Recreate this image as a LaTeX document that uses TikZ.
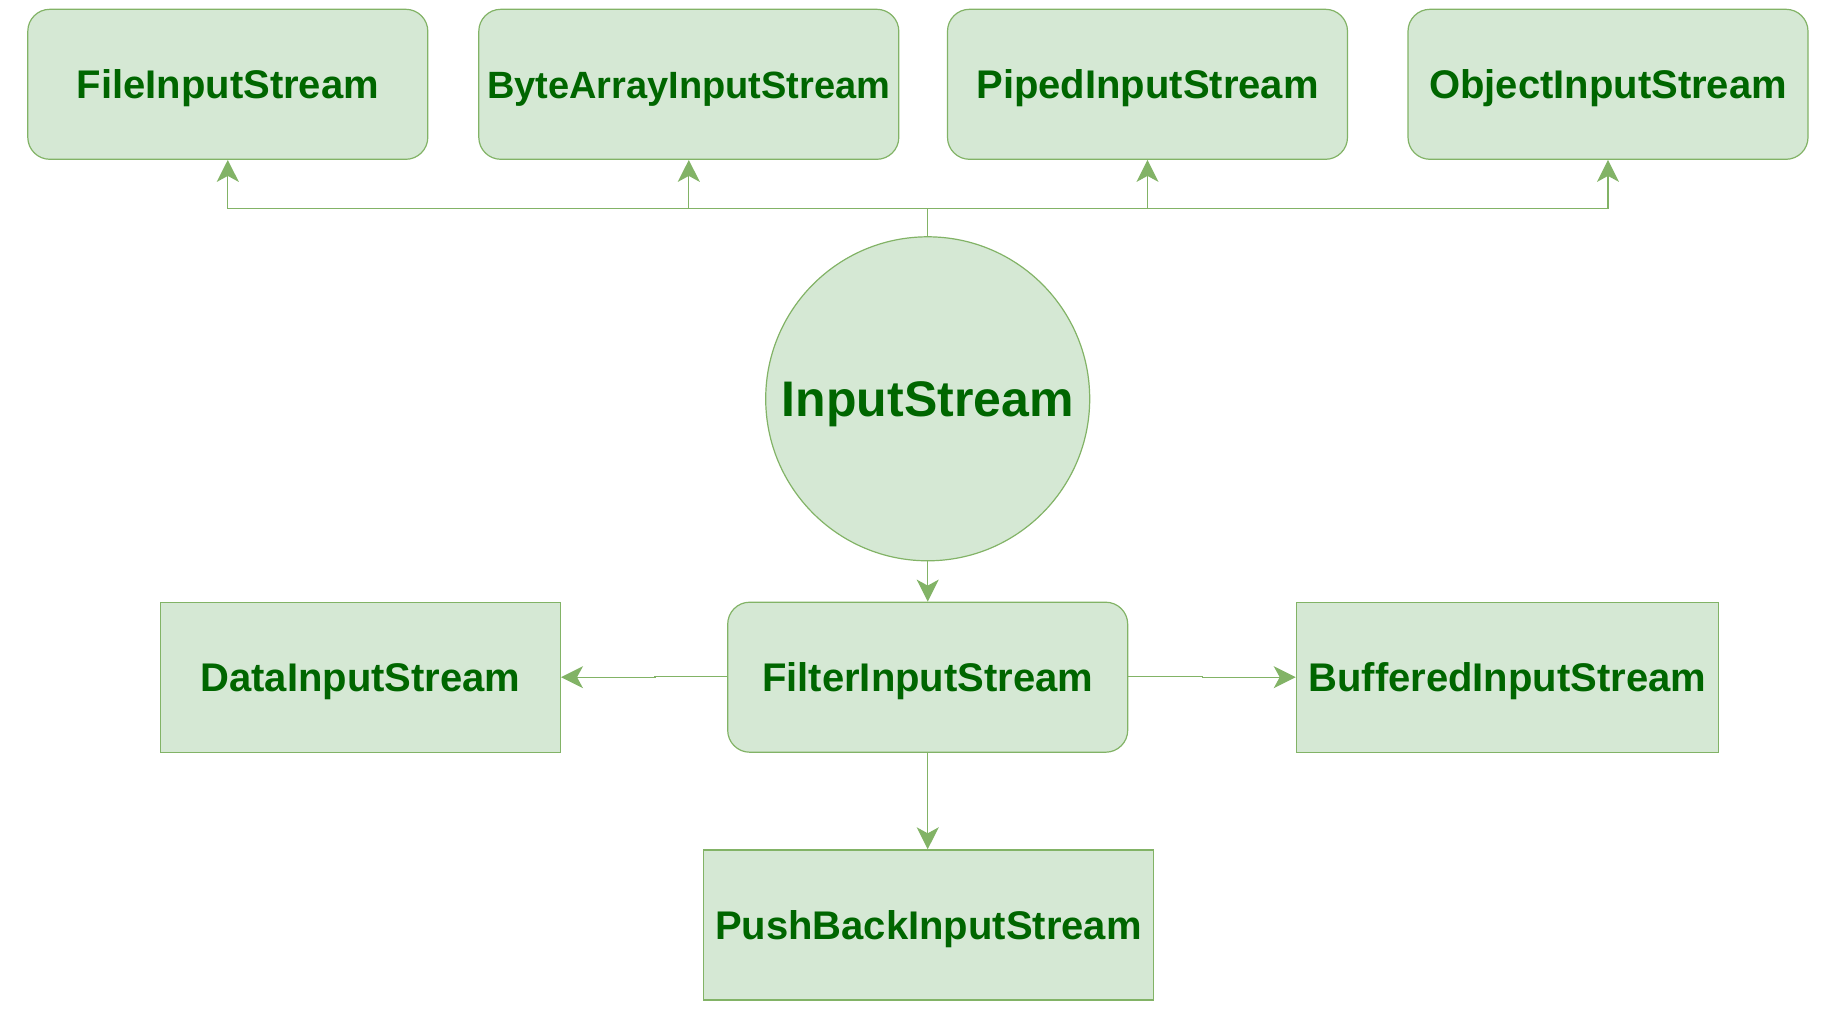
\documentclass[tikz,border=0pt]{standalone}
\usepackage{fontspec}
\setmainfont{Liberation Sans}
\usetikzlibrary{arrows.meta}
\definecolor{boxfill}{HTML}{D5E8D4}
\definecolor{boxline}{HTML}{82B366}
\definecolor{txt}{HTML}{006600}
\tikzset{
  base/.style={draw=boxline, fill=boxfill, line width=1.2pt, inner sep=0pt, text=txt,
    font=\fontsize{40}{48}\selectfont\bfseries, text height=28.6pt, text depth=0pt},
  rbox/.style={base, rounded corners=22pt, minimum width=400pt, minimum height=150pt},
  sbox/.style={base, minimum height=150pt},
  circ/.style={base, circle, minimum size=324pt, font=\fontsize{50}{60}\selectfont\bfseries,
    text height=35.8pt, text depth=0pt},
  arr/.style={draw=boxline, line width=1.3pt, -{Stealth[length=22pt,width=22pt,inset=6pt,fill=boxline]}},
  ln/.style={draw=boxline, line width=1.3pt}
}
\begin{document}
\begin{tikzpicture}[x=1pt,y=-1pt]
\useasboundingbox (0,0) rectangle (1823,1025);
\node[rbox] (FIS) at (227.8,84.3) {FileInputStream};
\node[rbox, minimum width=420pt, font=\fontsize{38}{46}\selectfont\bfseries, text height=28pt] (BAIS) at (688.8,84.3) {ByteArrayInputStream};
\node[rbox] (PIS) at (1147.5,84.3) {PipedInputStream};
\node[rbox] (OIS) at (1608,84.3) {ObjectInputStream};
\node[circ] (IS) at (927.7,398.8) {InputStream};
\node[rbox] (FIL) at (927.7,677.2) {FilterInputStream};
\node[sbox, minimum width=400pt] (DIS) at (360.4,677.2) {DataInputStream};
\node[sbox, minimum width=422pt] (BIS) at (1507.3,677.2) {BufferedInputStream};
\node[sbox, minimum width=450pt] (PBIS) at (928.4,924.9) {PushBackInputStream};
\coordinate (bus) at (927.7,208.3);
\draw[ln] (IS.north) -- (bus);
\draw[arr] (bus) -| (FIS.south);
\draw[arr] (bus) -| (BAIS.south);
\draw[arr] (bus) -| (PIS.south);
\draw[arr] (bus) -| (OIS.south);
\draw[arr] (IS.south) -- (FIL.north);
\draw[arr] ([yshift=1pt]FIL.west) -- ++(-72,0) |- (DIS.east);
\draw[arr] ([yshift=1pt]FIL.east) -- ++(74,0) |- (BIS.west);
\draw[arr] (FIL.south) -- (FIL.south |- PBIS.north);
\end{tikzpicture}
\end{document}
